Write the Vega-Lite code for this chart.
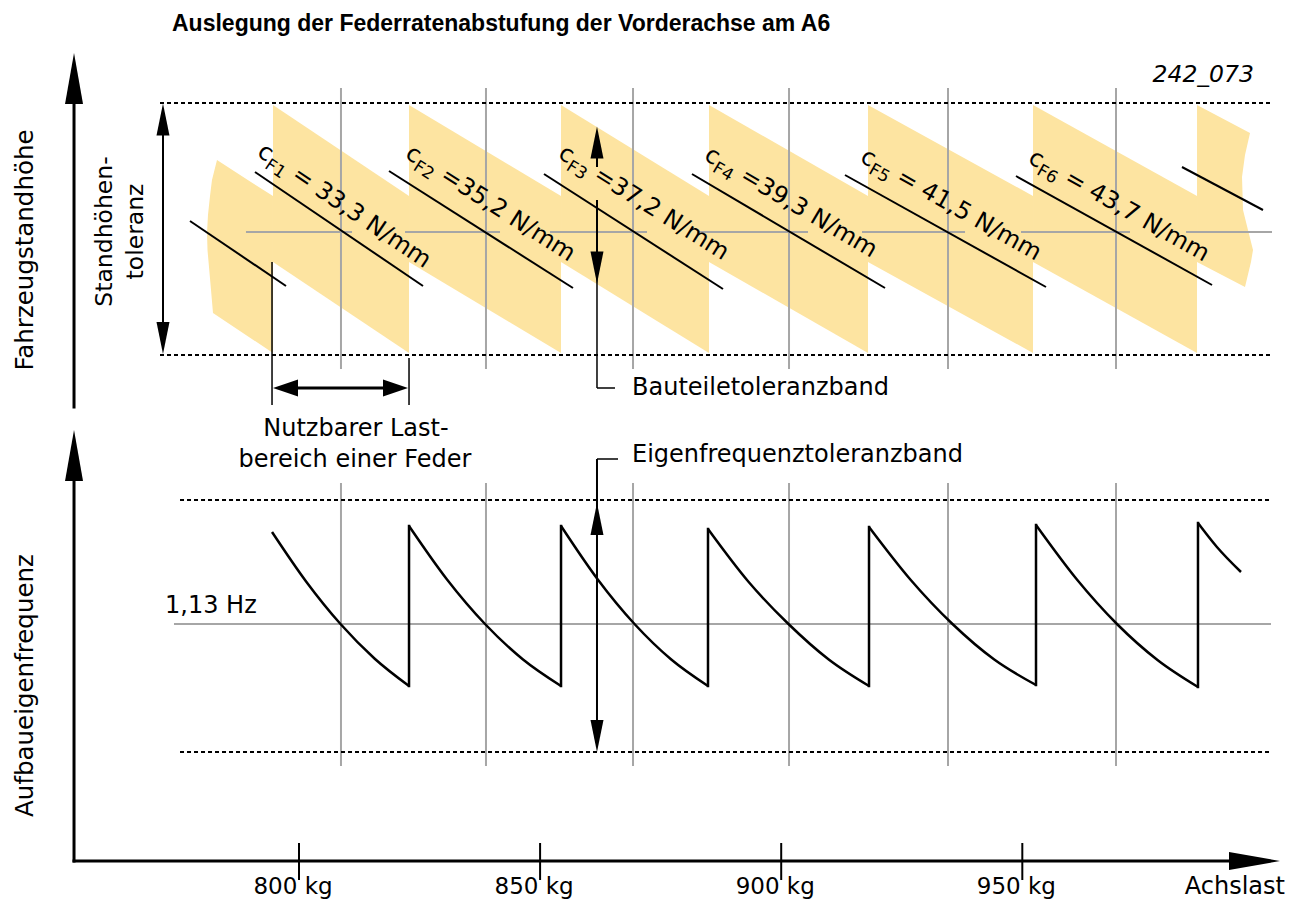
{
  "$schema": "https://vega.github.io/schema/vega-lite/v6.json",
  "width": 1302,
  "height": 901,
  "autosize": {"type": "none"},
  "padding": 0,
  "background": "white",
  "config": {"view": {"stroke": null}},
  "datasets": {
    "bands": [
      {"b": 1, "x": 794.61, "top": 79.6, "bot": 63.9}, {"b": 1, "x": 822.82, "top": 70.5, "bot": 54.8},
      {"b": 2, "x": 822.82, "top": 79.6, "bot": 63.9}, {"b": 2, "x": 854.34, "top": 70.5, "bot": 54.8},
      {"b": 3, "x": 854.34, "top": 79.6, "bot": 63.9}, {"b": 3, "x": 885.03, "top": 70.5, "bot": 54.8},
      {"b": 4, "x": 885.03, "top": 79.6, "bot": 63.9}, {"b": 4, "x": 918.0, "top": 70.5, "bot": 54.8},
      {"b": 5, "x": 918.0, "top": 79.6, "bot": 63.9}, {"b": 5, "x": 952.22, "top": 70.5, "bot": 54.8},
      {"b": 6, "x": 952.22, "top": 79.6, "bot": 63.9}, {"b": 6, "x": 986.23, "top": 70.5, "bot": 54.8}
    ],
    "pbands": [
      {"b": 0, "y": 74.1, "xl": 783.0, "xr": 783.0},
      {"b": 0, "y": 72.1, "xl": 781.96, "xr": 789.39},
      {"b": 0, "y": 70.5, "xl": 781.55, "xr": 794.61},
      {"b": 0, "y": 68.6, "xl": 781.13, "xr": 794.61},
      {"b": 0, "y": 66.8, "xl": 780.93, "xr": 794.61},
      {"b": 0, "y": 65.1, "xl": 781.03, "xr": 794.61},
      {"b": 0, "y": 63.4, "xl": 781.34, "xr": 794.61},
      {"b": 0, "y": 61.1, "xl": 781.76, "xr": 794.61},
      {"b": 0, "y": 58.8, "xl": 782.17, "xr": 794.61},
      {"b": 0, "y": 54.8, "xl": 794.61, "xr": 794.61},
      {"b": 7, "y": 79.6, "xl": 986.23, "xr": 986.23},
      {"b": 7, "y": 76.8, "xl": 986.23, "xr": 997.22},
      {"b": 7, "y": 74.6, "xl": 986.23, "xr": 996.18},
      {"b": 7, "y": 72.4, "xl": 986.23, "xr": 995.56},
      {"b": 7, "y": 69.1, "xl": 986.23, "xr": 995.77},
      {"b": 7, "y": 67.1, "xl": 986.23, "xr": 996.8},
      {"b": 7, "y": 65.1, "xl": 986.23, "xr": 997.84},
      {"b": 7, "y": 63.9, "xl": 986.23, "xr": 997.42},
      {"b": 7, "y": 61.4, "xl": 996.18, "xr": 996.18}
    ],
    "grays": [
      {"x": 808.71, "x2": 808.71, "y": 81.3, "y2": 53.2},
      {"x": 838.78, "x2": 838.78, "y": 81.3, "y2": 53.2},
      {"x": 869.27, "x2": 869.27, "y": 81.3, "y2": 53.2},
      {"x": 901.62, "x2": 901.62, "y": 81.3, "y2": 53.2},
      {"x": 934.59, "x2": 934.59, "y": 81.3, "y2": 53.2},
      {"x": 969.43, "x2": 969.43, "y": 81.3, "y2": 53.2},
      {"x": 808.71, "x2": 808.71, "y": 41.8, "y2": 13.5},
      {"x": 838.78, "x2": 838.78, "y": 41.8, "y2": 13.5},
      {"x": 869.27, "x2": 869.27, "y": 41.8, "y2": 13.5},
      {"x": 901.62, "x2": 901.62, "y": 41.8, "y2": 13.5},
      {"x": 934.59, "x2": 934.59, "y": 41.8, "y2": 13.5},
      {"x": 969.43, "x2": 969.43, "y": 41.8, "y2": 13.5},
      {"x": 789.01, "x2": 811.0, "y": 66.9, "y2": 66.9},
      {"x": 821.99, "x2": 841.69, "y": 66.9, "y2": 66.9},
      {"x": 852.05, "x2": 872.17, "y": 66.9, "y2": 66.9},
      {"x": 882.54, "x2": 905.56, "y": 66.9, "y2": 66.9},
      {"x": 916.76, "x2": 938.12, "y": 66.9, "y2": 66.9},
      {"x": 949.73, "x2": 972.33, "y": 66.9, "y2": 66.9},
      {"x": 983.95, "x2": 1001.78, "y": 66.9, "y2": 66.9},
      {"x": 774.08, "x2": 1001.57, "y": 27.7, "y2": 27.7}
    ],
    "dots": [
      {"x": 771.18, "x2": 1001.78, "y": 79.8, "y2": 79.8},
      {"x": 771.18, "x2": 1001.78, "y": 54.6, "y2": 54.6},
      {"x": 775.33, "x2": 1001.57, "y": 40.1, "y2": 40.1},
      {"x": 775.33, "x2": 1001.57, "y": 14.9, "y2": 14.9}
    ],
    "diag": [
      {"x": 777.4, "y": 68.0, "x2": 797.31, "y2": 61.5},
      {"x": 790.88, "y": 72.9, "x2": 825.72, "y2": 61.5},
      {"x": 818.67, "y": 73.0, "x2": 856.82, "y2": 61.3},
      {"x": 850.81, "y": 72.7, "x2": 887.93, "y2": 61.2},
      {"x": 881.5, "y": 72.7, "x2": 921.53, "y2": 61.3},
      {"x": 913.23, "y": 72.6, "x2": 954.91, "y2": 61.4},
      {"x": 948.69, "y": 72.5, "x2": 989.34, "y2": 61.6},
      {"x": 983.11, "y": 73.4, "x2": 999.91, "y2": 69.1}
    ],
    "thin": [
      {"x": 794.41, "x2": 794.41, "y": 63.9, "y2": 49.6},
      {"x": 822.82, "x2": 822.82, "y": 54.3, "y2": 49.6},
      {"x": 861.8, "x2": 861.8, "y": 63.35, "y2": 51.3},
      {"x": 861.8, "x2": 865.53, "y": 51.3, "y2": 51.3},
      {"x": 861.8, "x2": 866.16, "y": 44.2, "y2": 44.2}
    ],
    "shafts": [
      {"x": 771.8, "x2": 771.8, "y": 78.15, "y2": 56.25},
      {"x": 861.8, "x2": 861.8, "y": 75.85, "y2": 73.4},
      {"x": 861.8, "x2": 861.8, "y": 70.1, "y2": 63.35},
      {"x": 861.8, "x2": 861.8, "y": 44.2, "y2": 16.5}
    ],
    "hshaft": [
      {"x": 797.21, "x2": 820.02, "y": 51.3, "y2": 51.3}
    ],
    "axes": [
      {"x": 753.35, "x2": 753.35, "y": 49.4, "y2": 82.25},
      {"x": 753.35, "x2": 753.35, "y": 4.0, "y2": 44.55},
      {"x": 753.35, "x2": 998.15, "y": 4.0, "y2": 4.0}
    ],
    "ticks": [
      {"x": 800, "y": 5.8, "y2": 2.1, "label": "800 kg"},
      {"x": 850, "y": 5.8, "y2": 2.1, "label": "850 kg"},
      {"x": 900, "y": 5.8, "y2": 2.1, "label": "900 kg"},
      {"x": 950, "y": 5.8, "y2": 2.1, "label": "950 kg"}
    ],
    "curves": [
      {"s": 0, "x": 794.41, "y": 36.9}, {"s": 0, "x": 801.51, "y": 31.93}, {"s": 0, "x": 808.61, "y": 27.7}, {"s": 0, "x": 815.71, "y": 24.23}, {"s": 0, "x": 822.82, "y": 21.5},
      {"s": 1, "x": 822.82, "y": 37.5}, {"s": 1, "x": 830.7, "y": 32.15}, {"s": 1, "x": 838.58, "y": 27.7}, {"s": 1, "x": 846.46, "y": 24.15}, {"s": 1, "x": 854.34, "y": 21.5},
      {"s": 2, "x": 854.34, "y": 37.5}, {"s": 2, "x": 861.96, "y": 32.15}, {"s": 2, "x": 869.58, "y": 27.7}, {"s": 2, "x": 877.2, "y": 24.15}, {"s": 2, "x": 884.82, "y": 21.5},
      {"s": 3, "x": 884.82, "y": 37.2}, {"s": 3, "x": 893.17, "y": 31.95}, {"s": 3, "x": 901.51, "y": 27.7}, {"s": 3, "x": 909.86, "y": 24.15}, {"s": 3, "x": 918.21, "y": 21.5},
      {"s": 4, "x": 918.21, "y": 37.4}, {"s": 4, "x": 926.87, "y": 32.1}, {"s": 4, "x": 935.52, "y": 27.7}, {"s": 4, "x": 944.18, "y": 24.15}, {"s": 4, "x": 952.84, "y": 21.6},
      {"s": 5, "x": 952.84, "y": 37.6}, {"s": 5, "x": 961.24, "y": 32.2}, {"s": 5, "x": 969.63, "y": 27.7}, {"s": 5, "x": 978.03, "y": 24.1}, {"s": 5, "x": 986.43, "y": 21.4},
      {"s": 6, "x": 986.43, "y": 37.8}, {"s": 6, "x": 990.31, "y": 35.43}, {"s": 6, "x": 995.35, "y": 32.9}
    ],
    "jumps": [
      {"x": 822.82, "y": 21.5, "y2": 37.5},
      {"x": 854.34, "y": 21.5, "y2": 37.5},
      {"x": 884.82, "y": 21.5, "y2": 37.2},
      {"x": 918.21, "y": 21.5, "y2": 37.4},
      {"x": 952.84, "y": 21.6, "y2": 37.6},
      {"x": 986.43, "y": 21.4, "y2": 37.8}
    ],
    "headsL": [
      {"x": 753.35, "y": 82.25, "deg": 0},
      {"x": 753.35, "y": 44.55, "deg": 0},
      {"x": 998.15, "y": 4.0, "deg": 90}
    ],
    "headsS": [
      {"x": 771.8, "y": 78.15, "deg": 0},
      {"x": 771.8, "y": 56.3, "deg": 180},
      {"x": 861.8, "y": 75.85, "deg": 0},
      {"x": 861.8, "y": 63.35, "deg": 180},
      {"x": 861.8, "y": 38.2, "deg": 0},
      {"x": 861.8, "y": 16.5, "deg": 180}
    ],
    "headsM": [
      {"x": 797.21, "y": 51.3, "deg": 270},
      {"x": 820.02, "y": 51.3, "deg": 90}
    ],
    "cl": [
      {"x": 791.09, "y": 74.6, "rot": 34, "sub": "F1", "rest": "= 33,3 N/mm"},
      {"x": 821.78, "y": 74.4, "rot": 32.5, "sub": "F2", "rest": "=35,2 N/mm"},
      {"x": 853.51, "y": 74.4, "rot": 32, "sub": "F3", "rest": "=37,2 N/mm"},
      {"x": 883.78, "y": 74.2, "rot": 30.5, "sub": "F4", "rest": "=39,3 N/mm"},
      {"x": 916.13, "y": 74.0, "rot": 29.5, "sub": "F5", "rest": "= 41,5 N/mm"},
      {"x": 950.97, "y": 73.9, "rot": 29.5, "sub": "F6", "rest": "= 43,7 N/mm"}
    ]
  },
  "layer": [
    {
      "data": {"name": "bands"},
      "mark": {"type": "area", "color": "#fde4a1", "opacity": 1},
      "encoding": {
        "x": {"field": "x", "type": "quantitative", "scale": {"domain": [738, 1008], "nice": false, "zero": false}, "axis": null},
        "y": {"field": "top", "type": "quantitative", "scale": {"domain": [0, 90.1], "nice": false, "zero": false}, "axis": null},
        "y2": {"field": "bot"},
        "detail": {"field": "b"}
      }
    },
    {
      "data": {"name": "pbands"},
      "mark": {"type": "area", "orient": "horizontal", "color": "#fde4a1", "opacity": 1},
      "encoding": {
        "y": {"field": "y", "type": "quantitative", "scale": {"domain": [0, 90.1], "nice": false, "zero": false}, "axis": null},
        "x": {"field": "xl", "type": "quantitative", "scale": {"domain": [738, 1008], "nice": false, "zero": false}, "axis": null},
        "x2": {"field": "xr"},
        "detail": {"field": "b"}
      }
    },
    {
      "data": {"name": "grays"},
      "mark": {"type": "rule", "color": "#a6a6a6", "strokeWidth": 2},
      "encoding": {
        "x": {"field": "x", "type": "quantitative", "scale": {"domain": [738, 1008], "nice": false, "zero": false}, "axis": null},
        "x2": {"field": "x2"},
        "y": {"field": "y", "type": "quantitative", "scale": {"domain": [0, 90.1], "nice": false, "zero": false}, "axis": null},
        "y2": {"field": "y2"}
      }
    },
    {
      "data": {"name": "dots"},
      "mark": {"type": "rule", "color": "black", "strokeWidth": 2, "strokeDash": [4, 3]},
      "encoding": {
        "x": {"field": "x", "type": "quantitative", "scale": {"domain": [738, 1008], "nice": false, "zero": false}, "axis": null},
        "x2": {"field": "x2"},
        "y": {"field": "y", "type": "quantitative", "scale": {"domain": [0, 90.1], "nice": false, "zero": false}, "axis": null},
        "y2": {"field": "y2"}
      }
    },
    {
      "data": {"name": "diag"},
      "mark": {"type": "rule", "color": "black", "strokeWidth": 2},
      "encoding": {
        "x": {"field": "x", "type": "quantitative", "scale": {"domain": [738, 1008], "nice": false, "zero": false}, "axis": null},
        "x2": {"field": "x2"},
        "y": {"field": "y", "type": "quantitative", "scale": {"domain": [0, 90.1], "nice": false, "zero": false}, "axis": null},
        "y2": {"field": "y2"}
      }
    },
    {
      "data": {"name": "thin"},
      "mark": {"type": "rule", "color": "black", "strokeWidth": 1.5},
      "encoding": {
        "x": {"field": "x", "type": "quantitative", "scale": {"domain": [738, 1008], "nice": false, "zero": false}, "axis": null},
        "x2": {"field": "x2"},
        "y": {"field": "y", "type": "quantitative", "scale": {"domain": [0, 90.1], "nice": false, "zero": false}, "axis": null},
        "y2": {"field": "y2"}
      }
    },
    {
      "data": {"name": "shafts"},
      "mark": {"type": "rule", "color": "black", "strokeWidth": 2},
      "encoding": {
        "x": {"field": "x", "type": "quantitative", "scale": {"domain": [738, 1008], "nice": false, "zero": false}, "axis": null},
        "x2": {"field": "x2"},
        "y": {"field": "y", "type": "quantitative", "scale": {"domain": [0, 90.1], "nice": false, "zero": false}, "axis": null},
        "y2": {"field": "y2"}
      }
    },
    {
      "data": {"name": "hshaft"},
      "mark": {"type": "rule", "color": "black", "strokeWidth": 3},
      "encoding": {
        "x": {"field": "x", "type": "quantitative", "scale": {"domain": [738, 1008], "nice": false, "zero": false}, "axis": null},
        "x2": {"field": "x2"},
        "y": {"field": "y", "type": "quantitative", "scale": {"domain": [0, 90.1], "nice": false, "zero": false}, "axis": null},
        "y2": {"field": "y2"}
      }
    },
    {
      "data": {"name": "axes"},
      "mark": {"type": "rule", "color": "black", "strokeWidth": 3, "strokeCap": "square"},
      "encoding": {
        "x": {"field": "x", "type": "quantitative", "scale": {"domain": [738, 1008], "nice": false, "zero": false}, "axis": null},
        "x2": {"field": "x2"},
        "y": {"field": "y", "type": "quantitative", "scale": {"domain": [0, 90.1], "nice": false, "zero": false}, "axis": null},
        "y2": {"field": "y2"}
      }
    },
    {
      "data": {"name": "ticks"},
      "mark": {"type": "rule", "color": "black", "strokeWidth": 2},
      "encoding": {
        "x": {"field": "x", "type": "quantitative", "scale": {"domain": [738, 1008], "nice": false, "zero": false}, "axis": null},
        "y": {"field": "y", "type": "quantitative", "scale": {"domain": [0, 90.1], "nice": false, "zero": false}, "axis": null},
        "y2": {"field": "y2"}
      }
    },
    {
      "data": {"name": "ticks"},
      "mark": {"type": "text", "font": "DejaVu Sans", "fontSize": 23, "color": "black", "align": "center", "baseline": "alphabetic", "dx": -6},
      "encoding": {
        "x": {"field": "x", "type": "quantitative", "scale": {"domain": [738, 1008], "nice": false, "zero": false}, "axis": null},
        "y": {"datum": 0.7, "type": "quantitative", "scale": {"domain": [0, 90.1], "nice": false, "zero": false}, "axis": null},
        "text": {"field": "label"}
      }
    },
    {
      "data": {"name": "curves"},
      "mark": {"type": "line", "color": "black", "strokeWidth": 2.5, "interpolate": "monotone"},
      "encoding": {
        "x": {"field": "x", "type": "quantitative", "scale": {"domain": [738, 1008], "nice": false, "zero": false}, "axis": null},
        "y": {"field": "y", "type": "quantitative", "scale": {"domain": [0, 90.1], "nice": false, "zero": false}, "axis": null},
        "detail": {"field": "s"}
      }
    },
    {
      "data": {"name": "jumps"},
      "mark": {"type": "rule", "color": "black", "strokeWidth": 2.5, "strokeCap": "square"},
      "encoding": {
        "x": {"field": "x", "type": "quantitative", "scale": {"domain": [738, 1008], "nice": false, "zero": false}, "axis": null},
        "y": {"field": "y", "type": "quantitative", "scale": {"domain": [0, 90.1], "nice": false, "zero": false}, "axis": null},
        "y2": {"field": "y2"}
      }
    },
    {
      "data": {"name": "headsL"},
      "mark": {"type": "point", "shape": "M0,-1L0.353,1L-0.353,1Z", "size": 2601, "filled": true, "opacity": 1, "color": "black", "strokeWidth": 0},
      "encoding": {
        "x": {"field": "x", "type": "quantitative", "scale": {"domain": [738, 1008], "nice": false, "zero": false}, "axis": null},
        "y": {"field": "y", "type": "quantitative", "scale": {"domain": [0, 90.1], "nice": false, "zero": false}, "axis": null},
        "angle": {"field": "deg", "type": "quantitative", "scale": null}
      }
    },
    {
      "data": {"name": "headsS"},
      "mark": {"type": "point", "shape": "M0,-1L0.406,1L-0.406,1Z", "size": 1024, "filled": true, "opacity": 1, "color": "black", "strokeWidth": 0},
      "encoding": {
        "x": {"field": "x", "type": "quantitative", "scale": {"domain": [738, 1008], "nice": false, "zero": false}, "axis": null},
        "y": {"field": "y", "type": "quantitative", "scale": {"domain": [0, 90.1], "nice": false, "zero": false}, "axis": null},
        "angle": {"field": "deg", "type": "quantitative", "scale": null}
      }
    },
    {
      "data": {"name": "headsM"},
      "mark": {"type": "point", "shape": "M0,-1L0.68,1L-0.68,1Z", "size": 625, "filled": true, "opacity": 1, "color": "black", "strokeWidth": 0},
      "encoding": {
        "x": {"field": "x", "type": "quantitative", "scale": {"domain": [738, 1008], "nice": false, "zero": false}, "axis": null},
        "y": {"field": "y", "type": "quantitative", "scale": {"domain": [0, 90.1], "nice": false, "zero": false}, "axis": null},
        "angle": {"field": "deg", "type": "quantitative", "scale": null}
      }
    },
    {
      "data": {"name": "cl"},
      "mark": {"type": "text", "font": "DejaVu Sans", "fontSize": 24, "color": "black", "align": "left", "baseline": "alphabetic"},
      "encoding": {
        "x": {"field": "x", "type": "quantitative", "scale": {"domain": [738, 1008], "nice": false, "zero": false}, "axis": null},
        "y": {"field": "y", "type": "quantitative", "scale": {"domain": [0, 90.1], "nice": false, "zero": false}, "axis": null},
        "angle": {"field": "rot", "type": "quantitative", "scale": null},
        "text": {"value": "c"}
      }
    },
    {
      "data": {"name": "cl"},
      "mark": {"type": "text", "font": "DejaVu Sans", "fontSize": 17, "color": "black", "align": "left", "baseline": "alphabetic", "dx": 13.5, "dy": 6},
      "encoding": {
        "x": {"field": "x", "type": "quantitative", "scale": {"domain": [738, 1008], "nice": false, "zero": false}, "axis": null},
        "y": {"field": "y", "type": "quantitative", "scale": {"domain": [0, 90.1], "nice": false, "zero": false}, "axis": null},
        "angle": {"field": "rot", "type": "quantitative", "scale": null},
        "text": {"field": "sub"}
      }
    },
    {
      "data": {"name": "cl"},
      "mark": {"type": "text", "font": "DejaVu Sans", "fontSize": 24, "color": "black", "align": "left", "baseline": "alphabetic", "dx": 41.5},
      "encoding": {
        "x": {"field": "x", "type": "quantitative", "scale": {"domain": [738, 1008], "nice": false, "zero": false}, "axis": null},
        "y": {"field": "y", "type": "quantitative", "scale": {"domain": [0, 90.1], "nice": false, "zero": false}, "axis": null},
        "angle": {"field": "rot", "type": "quantitative", "scale": null},
        "text": {"field": "rest"}
      }
    },
    {
      "data": {"values": [{"x": 773.67, "y": 87.0, "t": "Auslegung der Federratenabstufung der Vorderachse am A6"}]},
      "mark": {"type": "text", "font": "Liberation Sans", "fontWeight": "bold", "fontSize": 23, "color": "black", "align": "left", "baseline": "alphabetic"},
      "encoding": {
        "x": {"field": "x", "type": "quantitative", "scale": {"domain": [738, 1008], "nice": false, "zero": false}, "axis": null},
        "y": {"field": "y", "type": "quantitative", "scale": {"domain": [0, 90.1], "nice": false, "zero": false}, "axis": null},
        "text": {"field": "t"}
      }
    },
    {
      "data": {"values": [{"x": 998.04, "y": 81.93, "t": "242_073"}]},
      "mark": {"type": "text", "font": "DejaVu Sans", "fontStyle": "italic", "fontSize": 23.5, "color": "black", "align": "right", "baseline": "alphabetic"},
      "encoding": {
        "x": {"field": "x", "type": "quantitative", "scale": {"domain": [738, 1008], "nice": false, "zero": false}, "axis": null},
        "y": {"field": "y", "type": "quantitative", "scale": {"domain": [0, 90.1], "nice": false, "zero": false}, "axis": null},
        "text": {"field": "t"}
      }
    },
    {
      "data": {"values": [
        {"x": 869.06, "y": 50.6, "t": "Bauteiletoleranzband"},
        {"x": 869.06, "y": 43.93, "t": "Eigenfrequenztoleranzband"},
        {"x": 772.22, "y": 28.8, "t": "1,13 Hz"}
      ]},
      "mark": {"type": "text", "font": "DejaVu Sans", "fontSize": 24, "color": "black", "align": "left", "baseline": "alphabetic"},
      "encoding": {
        "x": {"field": "x", "type": "quantitative", "scale": {"domain": [738, 1008], "nice": false, "zero": false}, "axis": null},
        "y": {"field": "y", "type": "quantitative", "scale": {"domain": [0, 90.1], "nice": false, "zero": false}, "axis": null},
        "text": {"field": "t"}
      }
    },
    {
      "data": {"values": [
        {"x": 811.82, "y": 46.5, "t": "Nutzbarer Last-"},
        {"x": 811.62, "y": 43.45, "t": "bereich einer Feder"}
      ]},
      "mark": {"type": "text", "font": "DejaVu Sans", "fontSize": 24, "color": "black", "align": "center", "baseline": "alphabetic"},
      "encoding": {
        "x": {"field": "x", "type": "quantitative", "scale": {"domain": [738, 1008], "nice": false, "zero": false}, "axis": null},
        "y": {"field": "y", "type": "quantitative", "scale": {"domain": [0, 90.1], "nice": false, "zero": false}, "axis": null},
        "text": {"field": "t"}
      }
    },
    {
      "data": {"values": [{"x": 1004.47, "y": 0.7, "t": "Achslast"}]},
      "mark": {"type": "text", "font": "DejaVu Sans", "fontSize": 24, "color": "black", "align": "right", "baseline": "alphabetic"},
      "encoding": {
        "x": {"field": "x", "type": "quantitative", "scale": {"domain": [738, 1008], "nice": false, "zero": false}, "axis": null},
        "y": {"field": "y", "type": "quantitative", "scale": {"domain": [0, 90.1], "nice": false, "zero": false}, "axis": null},
        "text": {"field": "t"}
      }
    },
    {
      "data": {"values": [
        {"x": 744.84, "y": 65.1, "t": "Fahrzeugstandhöhe"},
        {"x": 744.84, "y": 21.55, "t": "Aufbaueigenfrequenz"}
      ]},
      "mark": {"type": "text", "font": "DejaVu Sans", "fontSize": 24.5, "color": "black", "align": "center", "baseline": "alphabetic", "angle": 270},
      "encoding": {
        "x": {"field": "x", "type": "quantitative", "scale": {"domain": [738, 1008], "nice": false, "zero": false}, "axis": null},
        "y": {"field": "y", "type": "quantitative", "scale": {"domain": [0, 90.1], "nice": false, "zero": false}, "axis": null},
        "text": {"field": "t"}
      }
    },
    {
      "data": {"values": [
        {"x": 761.23, "y": 66.95, "t": "Standhöhen-"},
        {"x": 767.65, "y": 66.95, "t": "toleranz"}
      ]},
      "mark": {"type": "text", "font": "DejaVu Sans", "fontSize": 23.5, "color": "black", "align": "center", "baseline": "alphabetic", "angle": 270},
      "encoding": {
        "x": {"field": "x", "type": "quantitative", "scale": {"domain": [738, 1008], "nice": false, "zero": false}, "axis": null},
        "y": {"field": "y", "type": "quantitative", "scale": {"domain": [0, 90.1], "nice": false, "zero": false}, "axis": null},
        "text": {"field": "t"}
      }
    }
  ]
}
